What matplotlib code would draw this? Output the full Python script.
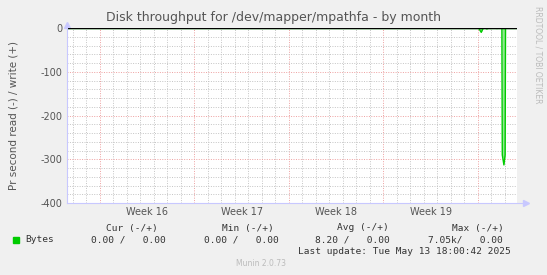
import matplotlib
matplotlib.use("Agg")
import matplotlib.pyplot as plt
import numpy as np

# days since Monday 2025-04-14 (start of week 16)
days = [-2.44, 28.05, 28.25, 28.4, 28.55, 28.65, 28.85, 28.95, 29.3, 29.4,
        29.78, 29.81, 29.93, 30.02, 30.05, 30.9]
read = [0, 0, 10, 0, 0, 2, 0, 1, 0, 1, 0, 290, 313, 290, 0, 0]
write = [0] * len(days)

week_labels = ["Week 16", "Week 17", "Week 18", "Week 19"]
week_starts = [0, 7, 14, 21, 28]
yticks = [0, -100, -200, -300, -400]

legend_cols = ["Cur (-/+)", "Min (-/+)", "Avg (-/+)", "Max (-/+)"]
legend_vals = ["0.00 /   0.00", "0.00 /   0.00", "8.20 /   0.00", "7.05k/   0.00"]

W, H = 547, 275
fig = plt.figure(figsize=(W / 100, H / 100), dpi=100, facecolor="#f0f0f0")
x0, x1, y0, y1 = 67, 517, 28, 203
ax = fig.add_axes([x0 / W, 1 - y1 / H, (x1 - x0) / W, (y1 - y0) / H])
ax.set_facecolor("white")
ax.set_xlim(-2.44, 30.9)
ax.set_ylim(-400, 0)

# grid
dots = (0, (1, 1.5))
for d in np.arange(-2, 31, 1):
    if d not in week_starts:
        ax.axvline(d, color="#c4c4c4", lw=0.7, ls=dots, zorder=1)
for d in week_starts:
    ax.axvline(d, color="#eea0a0", lw=0.7, ls=dots, zorder=1)
for v in range(-380, 0, 20):
    if v % 100:
        ax.axhline(v, color="#c4c4c4", lw=0.7, ls=dots, zorder=1)
    else:
        ax.axhline(v, color="#eea0a0", lw=0.7, ls=dots, zorder=1)

neg = [-r for r in read]
ax.fill_between(days, neg, 0, color="#90e890", lw=0, zorder=2)
ax.plot(days, neg, color="#00cc00", lw=1.0, zorder=3)
ax.plot(days, write, color="#00cc00", lw=1.0, zorder=3)
ax.axhline(0, color="black", lw=1.0, zorder=4)

for s in ax.spines.values():
    s.set_visible(False)
ax.set_yticks(yticks)
ax.set_yticklabels([str(v) for v in yticks])
ax.set_xticks([w + 3.5 for w in week_starts[:4]])
ax.set_xticklabels(week_labels)
ax.tick_params(length=0, labelsize=7, colors="#555555", pad=3)

# axis lines and arrows
ax.plot([-2.44, 31.6], [-400, -400], color="#c8c8ff", lw=0.8, clip_on=False, zorder=5)
ax.plot([-2.44, -2.44], [-400, 8], color="#c8c8ff", lw=0.8, clip_on=False, zorder=5)
ax.plot([31.6], [-400], marker=">", ms=4, color="#c8c8ff", clip_on=False)
ax.plot([-2.44], [8], marker="^", ms=4, color="#c8c8ff", clip_on=False)

fig.text(273 / W, 1 - 18 / H, "Disk throughput for /dev/mapper/mpathfa - by month",
         ha="center", va="center", fontsize=9, color="#555555")
fig.text(14 / W, 1 - 115 / H, "Pr second read (-) / write (+)", rotation=90,
         ha="center", va="center", fontsize=7.5, color="#555555")
fig.text(538 / W, 1 - 55 / H, "RRDTOOL / TOBI OETIKER", rotation=270,
         ha="center", va="center", fontsize=5.5, color="#bbbbbb")

mono = dict(family="DejaVu Sans Mono", fontsize=6.8, color="#333333")
head_x = [106, 222, 337, 452]
val_x = [91, 204, 315, 428]
for hx, vx, lab, val in zip(head_x, val_x, legend_cols, legend_vals):
    fig.text(hx / W, 1 - 228 / H, lab, ha="left", va="center", **mono)
    fig.text(vx / W, 1 - 240 / H, val, ha="left", va="center", **mono)
fig.patches.append(plt.Rectangle((13 / W, 1 - 243 / H), 6 / W, 6 / H,
                                 transform=fig.transFigure, color="#00cc00"))
fig.text(25 / W, 1 - 240 / H, "Bytes", ha="left", va="center", **mono)
fig.text(298 / W, 1 - 252 / H, "Last update: Tue May 13 18:00:42 2025",
         ha="left", va="center", **mono)
fig.text(261 / W, 1 - 264 / H, "Munin 2.0.73", ha="center", va="center",
         fontsize=5.5, color="#bbbbbb")

fig.savefig("out.png", dpi=100, facecolor=fig.get_facecolor())
